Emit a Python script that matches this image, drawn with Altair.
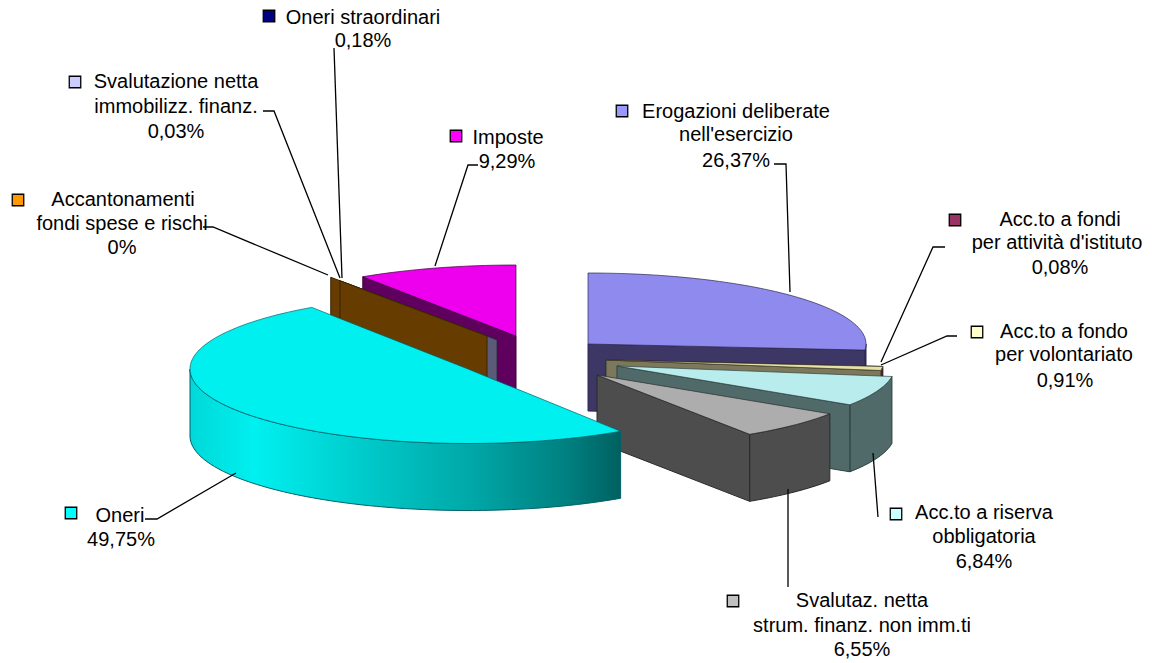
import math
import altair as alt

# ---- chart values
slice_names = ["Erogazioni deliberate nell'esercizio", "Acc.to a fondi per attività d'istituto",
               "Acc.to a fondo per volontariato", "Acc.to a riserva obbligatoria",
               "Svalutaz. netta strum. finanz. non imm.ti", "Oneri",
               "Accantonamenti fondi spese e rischi", "Svalutazione netta immobilizz. finanz.",
               "Oneri straordinari", "Imposte"]
slice_values = [26.37, 0.08, 0.91, 6.84, 6.55, 49.75, 0.0, 0.03, 0.18, 9.29]
legend_colors = ["#9999ff", "#993366", "#ffffcc", "#ccffff", "#c0c0c0",
                 "#00ffff", "#ff9900", "#ccccff", "#000080", "#ff00ff"]
label_lines = [
    ["Erogazioni deliberate", "nell'esercizio", "26,37%"],
    ["Acc.to a fondi", "per attività d'istituto", "0,08%"],
    ["Acc.to a fondo", "per volontariato", "0,91%"],
    ["Acc.to a riserva", "obbligatoria", "6,84%"],
    ["Svalutaz. netta", "strum. finanz. non imm.ti", "6,55%"],
    ["Oneri", "49,75%"],
    ["Accantonamenti", "fondi spese e rischi", "0%"],
    ["Svalutazione netta", "immobilizz.  finanz.", "0,03%"],
    ["Oneri straordinari", "0,18%"],
    ["Imposte", "9,29%"],
]

# ---- layout / style (reference pixels)
W, H = 1136, 647
RX, DEPTH = 278, 67
apex = [(588, 344), (606, 360), (606, 360), (617, 366), (597, 375),
        (468, 369), (487, 336), (497, 340), (497, 340), (516, 336)]
ry_of = [71, 71, 71, 71, 71, 74.5, 71, 71, 71, 71]
top_colors = ["#8f8bee", "#8a3060", "#e6e2a6", "#b9eded", "#adadad",
              "#00f0f0", "#ee8e00", "#bcbcee", "#000078", "#ee00ee"]
wall_colors = ["#3d3766", "#4d1a33", "#7b785c", "#506a6a", "#4d4d4d",
               "#00a8a8", "#663c00", "#5b5b78", "#000040", "#5f005f"]
edge_colors = ["#2c2850", "#301020", "#3e3c2c", "#2f4040", "#2a2a2a",
               "#00606a", "#3d2500", "#34344a", "#000020", "#3c003c"]
label_pos = [  # centre x, centre y of each text line
    [(736, 112), (736, 135), (736, 161)],
    [(1060, 220), (1057, 243), (1060, 268)],
    [(1064, 332), (1064, 355), (1065, 381)],
    [(984, 513), (984, 537), (984, 562)],
    [(862, 601), (862, 626), (862, 650)],
    [(120, 516), (121, 540)],
    [(123, 200), (122, 224), (122, 248)],
    [(176, 82), (176, 107), (176, 132)],
    [(363, 18), (363, 41)],
    [(508, 138), (507, 162)],
]
swatches = [(622, 111), (955, 220), (977, 332), (896, 514), (733, 601),
            (71, 513), (18, 200), (75, 82), (269, 16), (456, 136)]
leaders = [
    [(774, 164), (786, 164), (790, 292)],
    [(945, 247), (933, 247), (881, 362)],
    [(957, 336), (947, 336), (881, 365)],
    [(878, 517), (873, 453)],
    [(788, 587), (788, 489)],
    [(145, 519), (157, 519), (236, 473)],
    [(203, 227), (213, 227), (328, 275)],
    [(263, 111), (274, 111), (340, 278)],
    [(334, 48), (342, 278)],
    [(478, 165), (468, 165), (435, 266)],
]
FONT = "Liberation Sans"
FONT_SIZE = 20

xs = alt.X("x:Q", scale=alt.Scale(domain=[8, 8 + W], range=[0, W]), axis=None)
ys = alt.Y("y:Q", scale=alt.Scale(domain=[8, 8 + H], range=[0, H]), axis=None)

angles = [0.0]
for v in slice_values:
    angles.append(angles[-1] + v * 3.6)


def pt(i, deg, dz=0.0):
    a = math.radians(deg)
    return (apex[i][0] + RX * math.sin(a), apex[i][1] - ry_of[i] * math.cos(a) + dz)


def arc(i, a0, a1, dz=0.0):
    n = max(2, int(abs(a1 - a0) / 2) + 1)
    return [pt(i, a0 + (a1 - a0) * k / (n - 1), dz) for k in range(n)]


def poly(points, fill, stroke, width=1.0):
    pts = list(points) + [points[0]]
    data = [{"x": p[0], "y": p[1], "k": k} for k, p in enumerate(pts)]
    return alt.Chart(alt.Data(values=data)).mark_line(
        fill=fill, stroke=stroke, strokeWidth=width, strokeJoin="round"
    ).encode(x=xs, y=ys, order=alt.Order("k:Q"))


def cut_wall(i, deg, fill=None):
    a = apex[i]
    o = pt(i, deg)
    return poly([a, o, (o[0], o[1] + DEPTH), (a[0], a[1] + DEPTH)],
                fill or wall_colors[i], edge_colors[i])


def top(i):
    return poly([apex[i]] + arc(i, angles[i], angles[i + 1]), top_colors[i], edge_colors[i], 0.7)


def outer(i, a0, a1, fill=None):
    return poly(arc(i, a0, a1) + arc(i, a1, a0, DEPTH), fill or wall_colors[i], edge_colors[i])


oneri_gradient = alt.Gradient(
    gradient="linear", x1=0, x2=1, y1=0, y2=0,
    stops=[alt.GradientStop(offset=0, color="#00d8d8"),
           alt.GradientStop(offset=0.15, color="#00f0f0"),
           alt.GradientStop(offset=0.42, color="#00c8c8"),
           alt.GradientStop(offset=0.65, color="#00a8a8"),
           alt.GradientStop(offset=0.88, color="#007f7f"),
           alt.GradientStop(offset=1, color="#006060")],
)

layers = []
# left group, back to front
layers += [cut_wall(9, angles[9]), top(9)]
layers += [cut_wall(8, angles[8]), cut_wall(7, angles[7])]
layers += [cut_wall(6, angles[6])]
layers.append(alt.Chart(alt.Data(values=[{"x": 340, "y": 280, "k": 0}, {"x": 340, "y": 318, "k": 1}]))
              .mark_line(stroke="#3d2500", strokeWidth=1.2).encode(x=xs, y=ys, order=alt.Order("k:Q")))
# right group, back to front
layers += [outer(0, 90, angles[1]), cut_wall(0, angles[1]), top(0)]
layers += [cut_wall(1, angles[2]), cut_wall(2, angles[3]), top(2)]
layers += [outer(3, angles[3], angles[4]), cut_wall(3, angles[4]), top(3)]
layers += [outer(4, angles[4], angles[5]), cut_wall(4, angles[5]), top(4)]
# Oneri, front
layers += [outer(5, angles[5], 270, oneri_gradient), top(5)]

# leaders
for n, path in enumerate(leaders):
    d = [{"x": p[0], "y": p[1], "k": k} for k, p in enumerate(path)]
    layers.append(alt.Chart(alt.Data(values=d)).mark_line(stroke="#000000", strokeWidth=1.3)
                  .encode(x=xs, y=ys, order=alt.Order("k:Q")))

# swatches
sw = [{"x": p[0], "y": p[1], "c": c} for p, c in zip(swatches, legend_colors)]
layers.append(alt.Chart(alt.Data(values=sw)).mark_square(
    size=132, filled=True, stroke="#000000", strokeWidth=1.3, opacity=1
).encode(x=xs, y=ys, fill=alt.Fill("c:N", scale=None)))

# labels
txt = [{"x": p[0], "y": p[1], "t": t}
       for lines, ps in zip(label_lines, label_pos) for t, p in zip(lines, ps)]
layers.append(alt.Chart(alt.Data(values=txt)).mark_text(
    font=FONT, fontSize=FONT_SIZE, align="center", baseline="middle", color="#000000"
).encode(x=xs, y=ys, text="t:N"))

chart = alt.layer(*layers).properties(
    width=W, height=H,
    padding={"left": 0, "right": 0, "top": 0, "bottom": 7},
    autosize=alt.AutoSizeParams(type="none"),
).configure_view(stroke=None)

chart.save("out.html", embed_options={"renderer": "svg", "actions": False})
